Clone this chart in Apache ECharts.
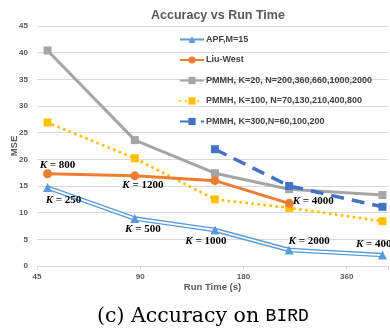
<!DOCTYPE html>
<html>
<head>
<meta charset="utf-8">
<script src="https://cdn.jsdelivr.net/npm/echarts@6/dist/echarts.min.js"></script>
<style>
  html, body { margin: 0; padding: 0; background: #fff; }
  #chart { width: 390px; height: 332px; }
</style>
</head>
<body>
<div id="chart"></div>
<script>
// Run times (s) and mean squared error for each method
const xTicks = [45, 90, 180, 360];
const baseTime = 45;

const apfTime = [48.3, 86.8, 148.6, 244.6, 457.7];
const apfMse  = [14.7, 8.9, 6.75, 3.0, 2.05];
const apfLabels = ['250', '500', '1000', '2000', '4000'];

const liuTime = [48.3, 86.8, 148.6, 244.6];
const liuMse  = [17.3, 16.9, 16.0, 11.75];
const liuLabels = ['800', '1200', null, '4000'];

const k20Time = [48.3, 86.8, 148.6, 244.6, 457.7];
const k20Mse  = [40.4, 23.6, 17.4, 14.4, 13.3];

const k100Time = [48.3, 86.8, 148.6, 244.6, 457.7];
const k100Mse  = [26.9, 20.2, 12.5, 10.9, 8.4];

const k300Time = [148.6, 244.6, 457.7];
const k300Mse  = [21.9, 15.0, 11.1];

const names = [
  'APF,M=15',
  'Liu-West',
  'PMMH, K=20, N=200,360,660,1000,2000',
  'PMMH, K=100, N=70,130,210,400,800',
  'PMMH, K=300,N=60,100,200'
];

// The horizontal axis is logarithmic (base 2) starting at 45 s
const toAxis = t => Math.log2(t / baseTime);
const pts = (ts, ys) => ts.map((t, i) => [toAxis(t), ys[i]]);

const kRich = {
  k: { fontFamily: 'Liberation Serif', fontStyle: 'italic', fontWeight: 'bold', fontSize: 11, color: '#000' },
  v: { fontFamily: 'Liberation Serif', fontWeight: 'bold', fontSize: 11, color: '#000' }
};
const kText = v => '{k|K}{v| = ' + v + '}';

// Label placement for the APF and Liu-West points
const apfPlace = [
  { position: 'bottom', offset: [16, 0] },
  { position: 'bottom', offset: [8, -2] },
  { position: 'bottom', offset: [-9, -2] },
  { position: 'top', offset: [20, 4] },
  { position: 'top', offset: [-6, 2] }
];
const liuPlace = [
  { position: 'top', offset: [10, 4] },
  { position: 'bottom', offset: [8, -4] },
  null,
  { position: 'right', offset: [-4, -2] }
];

function labelled(ts, ys, labels, place) {
  return ts.map((t, i) => {
    const item = { value: [toAxis(t), ys[i]] };
    if (labels[i]) {
      item.label = Object.assign({
        show: true,
        formatter: kText(labels[i]),
        rich: kRich,
        distance: 3
      }, place[i]);
    }
    return item;
  });
}

const chart = echarts.init(document.getElementById('chart'), null, { renderer: 'canvas' });

const axisText = { color: '#595959', fontSize: 8, fontWeight: 'bold', fontFamily: 'Liberation Sans' };
const nameText = { color: '#595959', fontSize: 9.5, fontWeight: 'bold', fontFamily: 'Liberation Sans' };

chart.setOption({
  animation: false,
  backgroundColor: '#fff',
  title: [{
    text: 'Accuracy vs Run Time',
    left: 146,
    top: 4,
    textStyle: { fontFamily: 'Liberation Sans', fontSize: 12.5, fontWeight: 'bold', color: '#595959' }
  }, {
    // figure caption under the chart
    text: '{s|(c) Accuracy on }{m|BIRD}',
    left: 92,
    top: 301,
    textStyle: {
      fontWeight: 'normal',
      rich: {
        s: { fontFamily: 'DejaVu Serif', fontSize: 20.5, fontWeight: 'normal', color: '#000' },
        m: { fontFamily: 'Liberation Mono', fontSize: 18, fontWeight: 'normal', color: '#000' }
      }
    }
  }],
  legend: {
    orient: 'vertical',
    left: 174,
    top: 30,
    itemGap: 11.5,
    itemWidth: 24,
    itemHeight: 9,
    data: names,
    textStyle: { fontFamily: 'Liberation Sans', fontSize: 9, fontWeight: 'bold', color: '#404040', padding: [0, 0, 0, -3] }
  },
  grid: { left: 37, right: 2, top: 26, bottom: 66, containLabel: false, outerBoundsMode: 'none' },
  xAxis: {
    type: 'value',
    min: 0,
    max: 3.4,
    interval: 1,
    name: 'Run Time (s)',
    nameLocation: 'middle',
    nameGap: 16,
    nameMoveOverlap: false,
    nameTextStyle: nameText,
    axisLine: { lineStyle: { color: '#D9D9D9', width: 1 } },
    axisTick: { show: true, length: 4, lineStyle: { color: '#D9D9D9' } },
    splitLine: { show: false },
    axisLabel: Object.assign({
      margin: 7,
      formatter: v => {
        const i = Math.round(v);
        return Math.abs(v - i) < 1e-6 && xTicks[i] !== undefined ? String(xTicks[i]) : '';
      }
    }, axisText)
  },
  yAxis: {
    type: 'value',
    min: 0,
    max: 45,
    interval: 5,
    name: 'MSE',
    nameLocation: 'middle',
    nameGap: 18,
    nameMoveOverlap: false,
    nameTextStyle: nameText,
    axisLine: { show: false },
    axisTick: { show: false },
    splitLine: { lineStyle: { color: '#D9D9D9', width: 1 } },
    axisLabel: Object.assign({ margin: 9 }, axisText)
  },
  series: [
    {
      name: names[2],
      type: 'line',
      data: pts(k20Time, k20Mse),
      symbol: 'rect',
      symbolSize: 8,
      lineStyle: { color: '#A5A5A5', width: 3 },
      itemStyle: { color: '#A5A5A5' },
      z: 2
    },
    {
      name: names[3],
      type: 'line',
      data: pts(k100Time, k100Mse),
      symbol: 'rect',
      symbolSize: 8,
      lineStyle: { color: '#FFC000', width: 3, type: [0.01, 6], cap: 'round' },
      itemStyle: { color: '#FFC000' },
      z: 2
    },
    {
      name: names[4],
      type: 'line',
      data: pts(k300Time, k300Mse),
      symbol: 'rect',
      symbolSize: 8,
      lineStyle: { color: '#4472C4', width: 3.5, type: [13, 8] },
      itemStyle: { color: '#4472C4' },
      z: 2
    },
    {
      name: names[1],
      type: 'line',
      data: labelled(liuTime, liuMse, liuLabels, liuPlace),
      symbol: 'circle',
      symbolSize: 9,
      lineStyle: { color: '#ED7D31', width: 3 },
      itemStyle: { color: '#ED7D31' },
      z: 3
    },
    {
      name: names[0],
      type: 'line',
      data: labelled(apfTime, apfMse, apfLabels, apfPlace),
      symbol: 'triangle',
      symbolSize: 9,
      lineStyle: { color: '#5B9BD5', width: 4.5 },
      itemStyle: { color: '#5B9BD5' },
      z: 3
    },
    {
      // inner white stroke giving the APF line its double-line look
      type: 'line',
      data: pts(apfTime, apfMse),
      symbol: 'none',
      lineStyle: { color: '#fff', width: 1.8 },
      silent: true,
      z: 3
    }
  ]
});
</script>
</body>
</html>
